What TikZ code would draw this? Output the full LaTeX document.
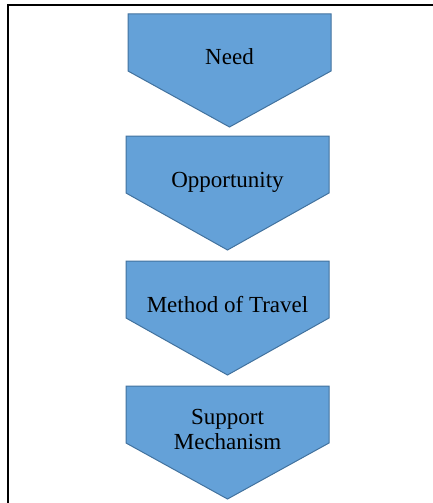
\documentclass[tikz,border=0pt]{standalone}
\usepackage{fontspec}
\setmainfont{Liberation Serif}
\definecolor{chevfill}{RGB}{100,161,216}
\definecolor{chevline}{RGB}{66,114,158}
\tikzset{
  chev/.style={fill=chevfill, draw=chevline, line width=1pt, line join=miter},
  chevtext/.style={font=\fontsize{23}{25}\selectfont, inner sep=0pt, align=center, text=black},
  frameline/.style={draw=black, line width=2.5pt}
}
\begin{document}
\begin{tikzpicture}[x=1pt,y=-1pt]
\useasboundingbox (0,0) rectangle (433,503);
% frame
\draw[frameline] (8,503) -- (8,5) -- (433,5);
% chevrons
\path[chev] (128,14) -- (331,14) -- (331,71) -- (229.5,127) -- (128,71) -- cycle;
\path[chev] (126,136) -- (329,136) -- (329,193) -- (227.5,250) -- (126,193) -- cycle;
\path[chev] (126,261) -- (329,261) -- (329,318) -- (227.5,375) -- (126,318) -- cycle;
\path[chev] (126,386) -- (329,386) -- (329,443) -- (227.5,499) -- (126,443) -- cycle;
% labels
\node[chevtext, anchor=base] (need) at (229.5,64) {Need};
\node[chevtext, anchor=base] (opp) at (227.5,187) {Opportunity};
\node[chevtext, anchor=base] (meth) at (227.5,312) {Method of Travel};
\node[chevtext, anchor=center] (supp) at (227.5,429) {Support\\Mechanism};
\end{tikzpicture}
\end{document}
